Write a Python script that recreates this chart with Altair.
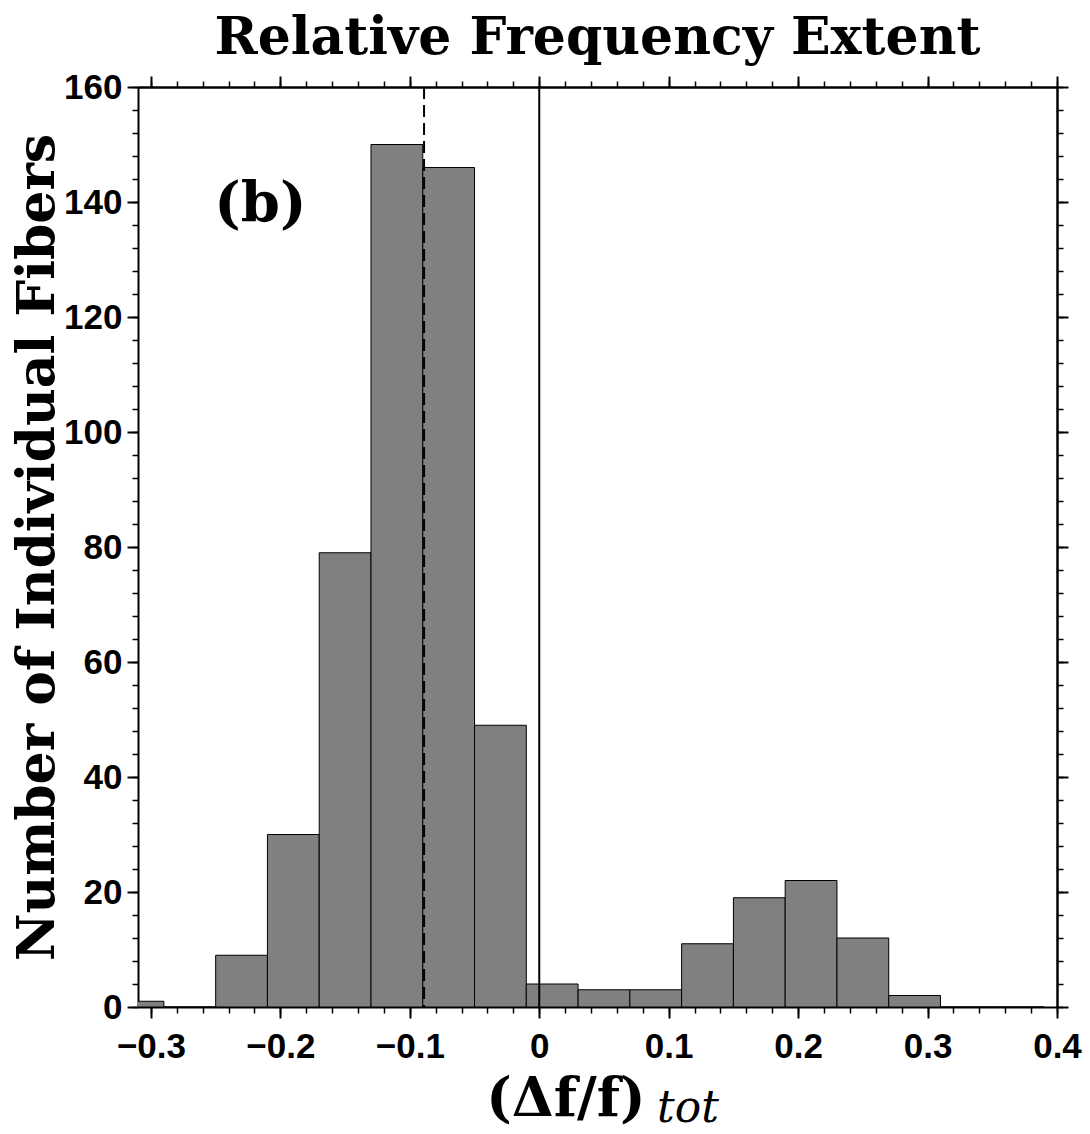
import altair as alt
import pandas as pd

# histogram bins (left edges, width 0.04) and counts
bin_starts = [-0.33, -0.29, -0.25, -0.21, -0.17, -0.13, -0.09, -0.05, -0.01,
              0.03, 0.07, 0.11, 0.15, 0.19, 0.23, 0.27, 0.31, 0.35]
counts = [1, 0, 9, 30, 79, 150, 146, 49, 4, 3, 3, 11, 19, 22, 12, 2, 0, 0]
bin_width = 0.04

mean_line = [-0.089]
zero_line = [0.0]

x_major = [-0.3, -0.2, -0.1, 0.0, 0.1, 0.2, 0.3, 0.4]
x_minor = [round(-0.30 + 0.02 * i, 2) for i in range(36)]
y_major = [0, 20, 40, 60, 80, 100, 120, 140, 160]
y_minor = [4 * i for i in range(41)]

panel_label = "(b)"
panel_pos = [-0.2155, 139.5]

df = pd.DataFrame({"start": bin_starts, "count": counts})
df["end"] = df["start"] + bin_width
df["base"] = 0

W, H = 919, 920
xscale = alt.Scale(domain=[-0.31, 0.4], nice=False, zero=False)
yscale = alt.Scale(domain=[0, 160], nice=False)

LABEL_FONT = "Liberation Sans"
SERIF = "DejaVu Serif"

lbl_expr = "datum.value == 0 ? '0' : replace(format(datum.value, '.1f'), '-', '\u2013')"

ax_bottom = alt.Axis(orient="bottom", values=x_major, labelExpr=lbl_expr, tickSize=11, tickWidth=2,
                     domainWidth=2, domainColor="black", tickColor="black", grid=False,
                     labelFont=LABEL_FONT, labelFontWeight="bold", labelFontSize=35, labelColor="black",
                     labelPadding=11, labelFlush=False, labelOverlap=False,
                     title="(\u0394f/f)", titleFont=SERIF, titleFontWeight="bold", titleFontSize=54,
                     titleColor="black", titleAlign="right", titleBaseline="alphabetic",
                     titleX=507, titleY=108)
ax_left = alt.Axis(orient="left", values=y_major, format="d", tickSize=11, tickWidth=2,
                   domainWidth=2, domainColor="black", tickColor="black", grid=False,
                   labelFont=LABEL_FONT, labelFontWeight="bold", labelFontSize=35, labelColor="black",
                   labelPadding=5, labelFlush=False, labelOverlap=False,
                   title="Number of Individual Fibers", titleFont=SERIF, titleFontWeight="bold",
                   titleFontSize=52, titleColor="black", titleAngle=270, titleAlign="center",
                   titleBaseline="alphabetic", titleX=-85, titleY=460)

def tick_axis(orient, values, size, width):
    return alt.Axis(orient=orient, values=values, labels=False, tickSize=size, tickWidth=width,
                    tickColor="black", domain=(orient in ("top", "right")), domainWidth=2,
                    domainColor="black", grid=False, title=None)

bars = alt.Chart(df).mark_bar(color="#808080", stroke="black", strokeWidth=1, clip=True).encode(
    x=alt.X("start:Q", scale=xscale, axis=ax_bottom),
    x2="end:Q",
    y=alt.Y("count:Q", scale=yscale, axis=ax_left),
    y2="base:Q",
)

pt = pd.DataFrame({"x": [0.0], "y": [0.0]})

def axis_layer(xa, ya):
    return alt.Chart(pt).mark_point(opacity=0).encode(
        x=alt.X("x:Q", scale=xscale, axis=xa),
        y=alt.Y("y:Q", scale=yscale, axis=ya),
    )

l_minor = axis_layer(tick_axis("bottom", x_minor, 6, 1.5), tick_axis("left", y_minor, 6, 1.5))
l_top = axis_layer(tick_axis("top", x_major, 11, 2), tick_axis("right", y_major, 11, 2))
l_top_minor = axis_layer(tick_axis("top", x_minor, 6, 1.5), tick_axis("right", y_minor, 6, 1.5))

zero_rule = alt.Chart(pd.DataFrame({"v": zero_line})).mark_rule(color="black", strokeWidth=2).encode(
    x=alt.X("v:Q", scale=xscale, axis=None))
mean_rule = alt.Chart(pd.DataFrame({"v": mean_line})).mark_rule(
    color="black", strokeWidth=2, strokeDash=[12, 6]).encode(
    x=alt.X("v:Q", scale=xscale, axis=None))

label = alt.Chart(pd.DataFrame({"x": [panel_pos[0]], "y": [panel_pos[1]], "t": [panel_label]})).mark_text(
    font=SERIF, fontWeight="bold", fontSize=56, color="black", align="center", baseline="middle").encode(
    x=alt.X("x:Q", scale=xscale, axis=None), y=alt.Y("y:Q", scale=yscale, axis=None), text="t:N")

sub = alt.Chart(pd.DataFrame({"t": ["tot"]})).mark_text(
    font=SERIF, fontStyle="italic", fontSize=44, color="black", align="left", baseline="alphabetic").encode(
    x=alt.value(519), y=alt.value(1035), text="t:N")

chart = alt.layer(bars, l_minor, l_top, l_top_minor, zero_rule, mean_rule, label, sub).resolve_axis(
    x="independent", y="independent").properties(
    width=W, height=H,
    title=alt.TitleParams("Relative Frequency Extent", font=SERIF, fontWeight="bold", fontSize=52,
                          color="black", anchor="middle", frame="group", offset=5),
    autosize=alt.AutoSizeParams(type="none"),
    padding={"left": 138, "top": 87, "right": 33, "bottom": 127},
).configure_view(stroke="black", strokeWidth=2).configure(background="white")

chart.save("out.html", embed_options={"renderer": "svg", "actions": False})
